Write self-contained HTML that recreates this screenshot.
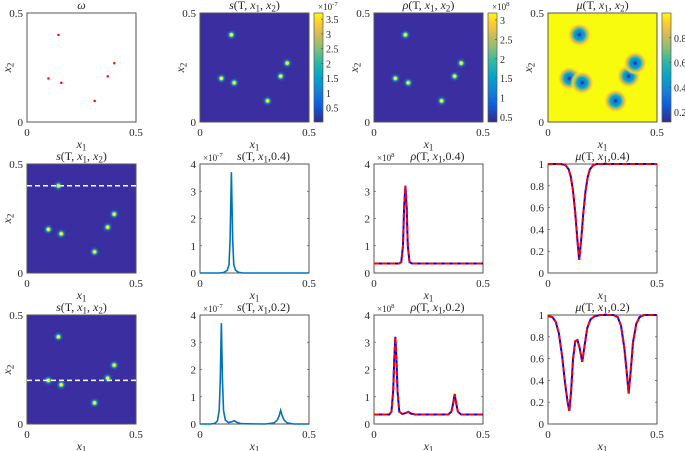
<!DOCTYPE html>
<html><head><meta charset="utf-8">
<style>
html,body{margin:0;padding:0;background:#fff;}
svg{display:block;font-family:"Liberation Serif",serif;}
</style></head>
<body>
<svg id="fig" width="685" height="451" viewBox="0 0 685 451" xmlns="http://www.w3.org/2000/svg">
<defs>
<linearGradient id="parula" x1="0" y1="1" x2="0" y2="0">
<stop offset="0" stop-color="#352a87"/><stop offset="0.15" stop-color="#0f5cdd"/><stop offset="0.28" stop-color="#1481d6"/><stop offset="0.42" stop-color="#06a4ca"/><stop offset="0.55" stop-color="#2eb7a4"/><stop offset="0.68" stop-color="#87bf77"/><stop offset="0.8" stop-color="#d1bb59"/><stop offset="0.9" stop-color="#fec832"/><stop offset="1" stop-color="#f9fb0e"/>
</linearGradient>
<radialGradient id="spot">
<stop offset="0" stop-color="#f9fb0e"/><stop offset="0.22" stop-color="#f9fb0e"/><stop offset="0.32" stop-color="#5fc08a"/><stop offset="0.5" stop-color="#1481d6" stop-opacity="0.7"/><stop offset="1" stop-color="#352a87" stop-opacity="0"/>
</radialGradient>
<radialGradient id="muspot">
<stop offset="0" stop-color="#2a1f9a"/><stop offset="0.2" stop-color="#1481d6"/><stop offset="0.42" stop-color="#06a4ca"/><stop offset="0.6" stop-color="#87bf77"/><stop offset="0.78" stop-color="#fec832"/><stop offset="1" stop-color="#f9fb0e" stop-opacity="0"/>
</radialGradient>
</defs>
</svg>
<script>
// data
const srcX1 = [0.144, 0.098, 0.157, 0.31, 0.37, 0.40];
const srcX2 = [0.40, 0.20, 0.18, 0.097, 0.21, 0.27];
const cutLines = [0.40, 0.20];
const xTicks = [0, 0.5];
const sCbTicks = [0.5, 1, 1.5, 2, 2.5, 3, 3.5];
const rhoCbTicks = [0.5, 1, 1.5, 2, 2.5, 3];
const muCbTicks = [0.2, 0.4, 0.6, 0.8];
const s04X = [0, 0.09, 0.11, 0.125, 0.133, 0.138, 0.144, 0.15, 0.155, 0.163, 0.178, 0.2, 0.5];
const s04Y = [0, 0, 0.02, 0.1, 0.3, 1.2, 3.7, 1.2, 0.3, 0.1, 0.02, 0, 0];
const rho04X = [0, 0.115, 0.125, 0.133, 0.138, 0.144, 0.15, 0.155, 0.163, 0.175, 0.5];
const rho04Y = [0.35, 0.35, 0.4, 1.0, 2.4, 3.2, 2.4, 1.0, 0.4, 0.35, 0.35];
const mu04X = [0, 0.06, 0.08, 0.095, 0.105, 0.115, 0.125, 0.135, 0.143, 0.152, 0.162, 0.172, 0.182, 0.192, 0.207, 0.225, 0.5];
const mu04Y = [1, 1, 0.99, 0.95, 0.88, 0.75, 0.55, 0.3, 0.12, 0.3, 0.55, 0.75, 0.88, 0.95, 0.99, 1, 1];
const s02X = [0, 0.05, 0.07, 0.08, 0.088, 0.093, 0.098, 0.103, 0.108, 0.116, 0.13, 0.145, 0.157, 0.17, 0.19, 0.3, 0.34, 0.355, 0.363, 0.37, 0.377, 0.385, 0.4, 0.43, 0.5];
const s02Y = [0, 0, 0.03, 0.12, 0.5, 1.6, 3.7, 1.6, 0.5, 0.15, 0.05, 0.08, 0.12, 0.06, 0.01, 0, 0.04, 0.15, 0.3, 0.5, 0.3, 0.15, 0.04, 0, 0];
const rho02X = [0, 0.07, 0.08, 0.088, 0.093, 0.098, 0.103, 0.108, 0.116, 0.13, 0.145, 0.157, 0.17, 0.19, 0.34, 0.355, 0.363, 0.37, 0.377, 0.385, 0.4, 0.5];
const rho02Y = [0.35, 0.35, 0.45, 1.2, 2.4, 3.2, 2.4, 1.2, 0.45, 0.37, 0.4, 0.45, 0.38, 0.35, 0.35, 0.45, 0.75, 1.1, 0.75, 0.45, 0.35, 0.35];
const mu02X = [0, 0.02, 0.035, 0.05, 0.065, 0.078, 0.09, 0.098, 0.106, 0.115, 0.125, 0.135, 0.145, 0.157, 0.168, 0.18, 0.195, 0.215, 0.24, 0.3, 0.32, 0.335, 0.35, 0.36, 0.37, 0.38, 0.39, 0.405, 0.42, 0.44, 0.5];
const mu02Y = [0.99, 0.98, 0.94, 0.83, 0.62, 0.38, 0.2, 0.12, 0.3, 0.6, 0.76, 0.77, 0.7, 0.57, 0.72, 0.88, 0.96, 0.99, 1, 1, 0.98, 0.9, 0.7, 0.5, 0.28, 0.5, 0.75, 0.92, 0.98, 1, 1];

const svg = document.getElementById('fig');
const NS = 'http://www.w3.org/2000/svg';
const colX = [27, 200, 374, 548];
const rowY = [13, 164, 315];
const W = 109, H = 109;
function mk(tag, attrs, parent) {
  const e = document.createElementNS(NS, tag);
  for (const k in attrs) e.setAttribute(k, attrs[k]);
  (parent || svg).appendChild(e);
  return e;
}
function txt(x, y, s, anchor, size, parent) {
  const t = mk('text', {x: x, y: y, 'font-size': size || 11, 'text-anchor': anchor || 'middle', fill: '#262626'}, parent);
  t.innerHTML = s;
  return t;
}
function rich(parts) {
  let cur = 0, out = '';
  parts.forEach(p => {
    const off = p[1] === 's' ? 2.5 : (p[1] === 'p' ? -4 : 0);
    const dy = off - cur; cur = off;
    let a = ' dy="' + dy + '"';
    if (p[1] === 'i') a += ' font-style="italic"';
    if (p[1] === 's' || p[1] === 'p') a += ' font-size="75%"';
    out += '<tspan' + a + '>' + p[0] + '</tspan>';
  });
  return out;
}
function sx(x0, v) { return x0 + v / 0.5 * W; }
function sy(y0, v, lo, hi) { return y0 + H - (v - lo) / (hi - lo) * H; }

function panel(name) {
  const g = mk('g', {});
  
  
  return g;
}
function box(g, x0, y0) {
  const b = mk('rect', {x: x0, y: y0, width: W, height: H, fill: 'none', stroke: '#555', 'stroke-width': 1}, g);
  
  
}
function xAxis(g, x0, y0) {
  xTicks.forEach(v => {
    const t = txt(sx(x0, v), y0 + H + 14, String(v), 'middle', 11, g);
    
    
  });
  const l = txt(x0 + W / 2, y0 + H + 26, rich([['x', 'i'], ['1', 's']]), 'middle', 12, g);
  
  
}
function heatAxes(g, x0, y0) {
  const a = txt(x0 - 4, y0 + 4, '0.5', 'end', 11, g);
  
  
  const b = txt(x0 - 4, y0 + H + 4, '0', 'end', 11, g);
  
  
  const l = txt(0, 0, rich([['x', 'i'], ['2', 's']]), 'middle', 12, g);
  l.setAttribute('transform', 'translate(' + (x0 - 16) + ',' + (y0 + H / 2) + ') rotate(-90)');
  
  
  xAxis(g, x0, y0);
}
function title(g, x, y, s) {
  const t = txt(x, y, s, 'middle', 12, g);
  
  
}
function heatmap(g, x0, y0, kind) {
  mk('rect', {x: x0, y: y0, width: W, height: H, fill: kind === 'mu' ? '#f9fb0e' : '#3a2ea0'}, g);
  const rad = kind === 'mu' ? 12 : 6;
  srcX1.forEach((v, i) => {
    const c = mk('circle', {cx: sx(x0, v), cy: sy(y0, srcX2[i], 0, 0.5), r: rad, fill: kind === 'mu' ? 'url(#muspot)' : 'url(#spot)'}, g);
    
    
  });
}
function expText(g, x, y, exp, name) {
  const e = txt(x, y, rich([['×10', ''], [exp, 'p']]), 'start', 9, g);
  
  
}
function colorbar(g, x0, y0, ticks, lo, hi, exp) {
  const cx = x0 + W + 5;
  const cb = mk('rect', {x: cx, y: y0, width: 9, height: H, fill: 'url(#parula)', stroke: '#555', 'stroke-width': 0.7}, g);
  
  
  ticks.forEach(v => {
    const y = sy(y0, v, lo, hi);
    mk('line', {x1: cx + 7, x2: cx + 9, y1: y, y2: y, stroke: '#555', 'stroke-width': 0.7}, g);
    const t = txt(cx + 12, y + 4, String(v), 'start', 10, g);
    
    
  });
  if (exp) expText(g, cx + 4, y0 - 3, exp, 'colorbar-exponent');
}
function lineAxes(g, x0, y0, yt, lo, hi, exp) {
  yt.forEach(v => {
    const y = sy(y0, v, lo, hi);
    mk('line', {x1: x0, x2: x0 + 2, y1: y, y2: y, stroke: '#555', 'stroke-width': 0.7}, g);
    mk('line', {x1: x0 + W - 2, x2: x0 + W, y1: y, y2: y, stroke: '#555', 'stroke-width': 0.7}, g);
    const t = txt(x0 - 4, y + 4, String(v), 'end', 11, g);
    
    
  });
  if (exp) expText(g, x0 + 3, y0 - 3, exp, 'axis-exponent');
  xAxis(g, x0, y0);
}
function path(g, x0, y0, xs, ys, lo, hi, attrs, name) {
  let d = '';
  xs.forEach((v, i) => { d += (i ? 'L' : 'M') + sx(x0, v).toFixed(2) + ',' + sy(y0, ys[i], lo, hi).toFixed(2); });
  const p = mk('path', Object.assign({d: d, fill: 'none'}, attrs), g);
  
  
}
function dualLine(g, x0, y0, xs, ys, lo, hi, nm) {
  path(g, x0, y0, xs, ys, lo, hi, {stroke: '#0000ff', 'stroke-width': 2}, nm + '-solid');
  path(g, x0, y0, xs, ys, lo, hi, {stroke: '#ff0000', 'stroke-width': 2, 'stroke-dasharray': '5,3'}, nm + '-dashed');
}
function t2(sym) { return rich([[sym, 'i'], ['(T, ', ''], ['x', 'i'], ['1', 's'], [', ', ''], ['x', 'i'], ['2', 's'], [')', '']]); }
function t1(sym, c) { return rich([[sym, 'i'], ['(T, ', ''], ['x', 'i'], ['1', 's'], [',' + c + ')', '']]); }

// Row 1
let g = panel('omega-panel');
box(g, colX[0], rowY[0]);
srcX1.forEach((v, i) => {
  const c = mk('rect', {x: sx(colX[0], v) - 1, y: sy(rowY[0], srcX2[i], 0, 0.5) - 1, width: 2.2, height: 2.2, fill: '#ff0000'}, g);
  
  
});
heatAxes(g, colX[0], rowY[0]);
title(g, colX[0] + W / 2, rowY[0] - 4, '<tspan font-style="italic">ω</tspan>');

const ty0 = rowY[0] - 4;
g = panel('s-heatmap');
heatmap(g, colX[1], rowY[0], 's'); box(g, colX[1], rowY[0]);
heatAxes(g, colX[1], rowY[0]);
colorbar(g, colX[1], rowY[0], sCbTicks, 0.01, 3.71, '-7');
title(g, colX[1] + W / 2, ty0, t2('s'));

g = panel('rho-heatmap');
heatmap(g, colX[2], rowY[0], 'rho'); box(g, colX[2], rowY[0]);
heatAxes(g, colX[2], rowY[0]);
colorbar(g, colX[2], rowY[0], rhoCbTicks, 0.37, 3.18, '8');
title(g, colX[2] + W / 2, ty0, t2('ρ'));

g = panel('mu-heatmap');
heatmap(g, colX[3], rowY[0], 'mu'); box(g, colX[3], rowY[0]);
heatAxes(g, colX[3], rowY[0]);
colorbar(g, colX[3], rowY[0], muCbTicks, 0.12, 1.0, null);
title(g, colX[3] + W / 2, ty0, t2('μ'));

// Rows 2, 3
const rowData = [
  {c: '0.4', s: [s04X, s04Y], r: [rho04X, rho04Y], m: [mu04X, mu04Y]},
  {c: '0.2', s: [s02X, s02Y], r: [rho02X, rho02Y], m: [mu02X, mu02Y]}
];
rowData.forEach((rd, k) => {
  const y0 = rowY[k + 1];
  const ty = y0 - 4;
  let g = panel('s-heatmap-cut-' + rd.c);
  heatmap(g, colX[0], y0, 's'); box(g, colX[0], y0);
  const yl = sy(y0, cutLines[k], 0, 0.5);
  const cl = mk('line', {x1: colX[0], x2: colX[0] + W, y1: yl, y2: yl, stroke: '#fff', 'stroke-width': 1.5, 'stroke-dasharray': '5,3'}, g);
  
  
  heatAxes(g, colX[0], y0);
  title(g, colX[0] + W / 2, ty, t2('s'));

  g = panel('s-profile-' + rd.c);
  box(g, colX[1], y0);
  lineAxes(g, colX[1], y0, [0, 1, 2, 3, 4], 0, 4, '-7');
  path(g, colX[1], y0, rd.s[0], rd.s[1], 0, 4, {stroke: '#0072bd', 'stroke-width': 1.6}, 's-line');
  title(g, colX[1] + W / 2 + 9, ty, t1('s', rd.c));

  g = panel('rho-profile-' + rd.c);
  box(g, colX[2], y0);
  lineAxes(g, colX[2], y0, [0, 1, 2, 3, 4], 0, 4, '8');
  dualLine(g, colX[2], y0, rd.r[0], rd.r[1], 0, 4, 'rho-line');
  title(g, colX[2] + W / 2 + 9, ty, t1('ρ', rd.c));

  g = panel('mu-profile-' + rd.c);
  box(g, colX[3], y0);
  lineAxes(g, colX[3], y0, [0, 0.2, 0.4, 0.6, 0.8, 1], 0, 1, null);
  dualLine(g, colX[3], y0, rd.m[0], rd.m[1], 0, 1, 'mu-line');
  title(g, colX[3] + W / 2, ty, t1('μ', rd.c));
});
</script>
</body></html>
